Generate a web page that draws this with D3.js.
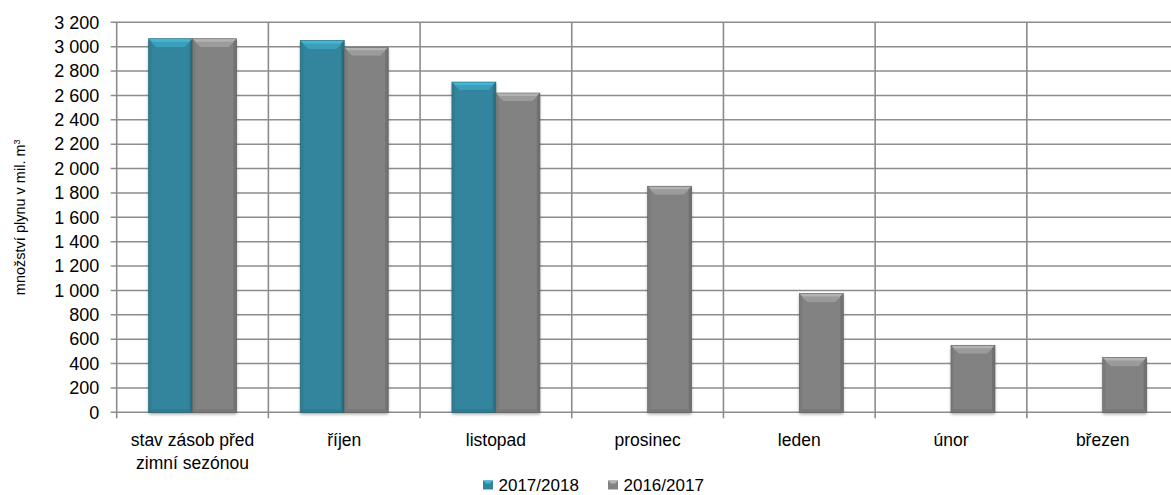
<!DOCTYPE html>
<meta charset="utf-8">
<script src="https://d3js.org/d3.v7.min.js"></script>
<style>
  body { margin: 0; background: #fff; }
  text { font-family: "Liberation Sans", Arial, sans-serif; fill: #000; }
</style>
<div id="chart"></div>
<script>
var categories = ["stav zásob před|zimní sezónou", "říjen", "listopad", "prosinec", "leden", "únor", "březen"];
var series = ["2017/2018", "2016/2017"];
var values2017 = [3065, 3050, 2710, null, null, null, null];
var values2016 = [3065, 2995, 2620, 1855, 975, 550, 450];
var yTicks = [0, 200, 400, 600, 800, 1000, 1200, 1400, 1600, 1800, 2000, 2200, 2400, 2600, 2800, 3000, 3200];

var W = 1171, H = 495;
var pLeft = 116.7, pRight = 1178.5, pTop = 22.3, pBottom = 412.3;
var colors = {"2017/2018": "#31859c", "2016/2017": "#828282"};

var svg = d3.select("#chart").append("svg")
  .attr("width", W).attr("height", H);

var defs = svg.append("defs");
var f = defs.append("filter").attr("id", "shadow")
  .attr("x", "-20%").attr("y", "-10%").attr("width", "140%").attr("height", "130%");
f.append("feDropShadow").attr("dx", 0).attr("dy", 2).attr("stdDeviation", 1.8)
  .attr("flood-color", "#000").attr("flood-opacity", 0.35);

var x = d3.scaleBand().domain(categories).range([pLeft, pRight]);
var y = d3.scaleLinear().domain([0, 3200]).range([pBottom, pTop]);

// grid
var grid = svg.append("g").attr("stroke", "#8c8c8c").attr("stroke-width", 1.6);
grid.selectAll(".h").data(yTicks).enter().append("line")
  .attr("x1", pLeft - 6).attr("x2", pRight)
  .attr("y1", d => y(d)).attr("y2", d => y(d));
var bounds = categories.map(c => x(c)).concat([pRight]);
grid.selectAll(".v").data(bounds).enter().append("line")
  .attr("x1", d => d).attr("x2", d => d)
  .attr("y1", pTop).attr("y2", pBottom + 6);

// y tick labels
svg.append("g").selectAll("text").data(yTicks).enter().append("text")
  .attr("x", pLeft - 17.5).attr("y", d => y(d)).attr("dy", "0.35em")
  .attr("text-anchor", "end").style("font-size", "18px")
  .text(d => d3.format(",")(d).replace(",", " "));

// y label
var yl = svg.append("text")
  .attr("transform", "translate(25," + ((pTop + pBottom) / 2) + ") rotate(-90)")
  .attr("text-anchor", "middle").style("font-size", "14.5px");
yl.append("tspan").text("množství plynu v mil. m");
yl.append("tspan").attr("dy", -5).style("font-size", "9px").text("3");

// bars
var bw = 44;
function bevelBar(g, x0, v, col) {
  var yt = y(v), h = pBottom - yt;
  var b = 8, s = 3;
  var light = d3.color(col).brighter(0.5), lighter = d3.color(col).brighter(0.9);
  var dark = d3.color(col).darker(0.5);
  var gg = g.append("g");
  gg.append("rect").attr("x", x0).attr("y", yt).attr("width", bw).attr("height", h)
    .attr("fill", col).attr("filter", "url(#shadow)");
  // top bevel
  gg.append("path").attr("fill", lighter)
    .attr("d", "M" + x0 + "," + yt + "L" + (x0 + bw) + "," + yt + "L" + (x0 + bw - b) + "," + (yt + b) + "L" + (x0 + b) + "," + (yt + b) + "Z");
  gg.append("path").attr("fill", light)
    .attr("d", "M" + (x0 + 2) + "," + (yt + 3) + "L" + (x0 + bw - 2) + "," + (yt + 3) + "L" + (x0 + bw - b) + "," + (yt + b) + "L" + (x0 + b) + "," + (yt + b) + "Z");
  // side bevels
  gg.append("path").attr("fill", dark).attr("opacity", 0.35)
    .attr("d", "M" + x0 + "," + yt + "L" + (x0 + s) + "," + (yt + s) + "L" + (x0 + s) + "," + (pBottom - s) + "L" + x0 + "," + pBottom + "Z");
  gg.append("path").attr("fill", dark).attr("opacity", 0.8)
    .attr("d", "M" + (x0 + bw) + "," + yt + "L" + (x0 + bw - s) + "," + (yt + s) + "L" + (x0 + bw - s) + "," + (pBottom - s) + "L" + (x0 + bw) + "," + pBottom + "Z");
  // bottom bevel
  gg.append("path").attr("fill", dark).attr("opacity", 0.45)
    .attr("d", "M" + x0 + "," + pBottom + "L" + (x0 + bw) + "," + pBottom + "L" + (x0 + bw - s) + "," + (pBottom - s) + "L" + (x0 + s) + "," + (pBottom - s) + "Z");
  gg.append("rect").attr("x", x0).attr("y", yt).attr("width", bw).attr("height", h)
    .attr("fill", "none").attr("stroke", d3.color(col).darker(0.8)).attr("stroke-width", 0.6);
}
var bars = svg.append("g");
categories.forEach(function(c, i) {
  var cx = x(c) + x.bandwidth() / 2;
  if (values2017[i] != null) bevelBar(bars, cx - bw, values2017[i], colors["2017/2018"]);
  if (values2016[i] != null) bevelBar(bars, cx, values2016[i], colors["2016/2017"]);
});

// x labels
svg.append("g").selectAll("text").data(categories).enter().append("text")
  .attr("x", d => x(d) + x.bandwidth() / 2).attr("y", 446)
  .attr("text-anchor", "middle").style("font-size", "17.5px")
  .each(function(d) {
    var lines = d.split("|");
    var t = d3.select(this);
    lines.forEach((l, k) => t.append("tspan").attr("x", x(d) + x.bandwidth() / 2)
      .attr("dy", k ? 23 : 0).text(l));
  });

// legend
var legX = [483, 608];
series.forEach(function(s, i) {
  var lg = svg.append("g").attr("transform", "translate(" + legX[i] + ",480.5)");
  var col = colors[s];
  lg.append("rect").attr("width", 10).attr("height", 9).attr("fill", col);
  lg.append("path").attr("fill", d3.color(col).brighter(0.9))
    .attr("d", "M0,0L10,0L7,3L3,3Z");
  lg.append("text").attr("x", 15.5).attr("y", 4.5).attr("dy", "0.35em")
    .style("font-size", "17px").text(s);
});
</script>
